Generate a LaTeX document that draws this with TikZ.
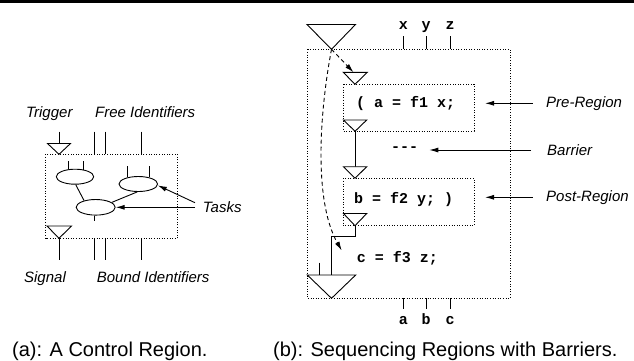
\documentclass[tikz,border=0pt]{standalone}
\usepackage{fontspec}
\setmainfont{Liberation Sans}
\setmonofont{Liberation Mono}
\usetikzlibrary{arrows.meta,shapes.geometric}
\tikzset{
  wire/.style={line width=0.9pt},
  regionbox/.style={line width=0.9pt, dash pattern=on 1pt off 1.6pt},
  tri/.style={line width=0.9pt, fill=white},
  task/.style={ellipse, draw, line width=0.9pt, fill=white, inner sep=0pt},
  lbl/.style={font=\fontsize{15}{18}\selectfont\itshape, inner sep=0pt},
  code/.style={font=\fontsize{15}{18}\selectfont\ttfamily\bfseries, inner sep=0pt},
  caption/.style={font=\fontsize{20}{24}\selectfont, inner sep=0pt, anchor=base west},
  pointer/.style={line width=0.9pt, -{Latex[length=9pt,width=5pt]}},
  dashptr/.style={line width=0.9pt, dash pattern=on 4pt off 3pt, -{Latex[length=9pt,width=5pt]}},
}
\begin{document}
\begin{tikzpicture}[x=1pt,y=-1pt]
\useasboundingbox (0,0) rectangle (634,360);
% rule across the top
\fill (0,0) rectangle (634,2.5);

% ---------------- (a) a control region ----------------
\draw[regionbox] (45.5,154.3) rectangle (177.3,238.3);
% trigger and signal
\draw[wire] (59,131.7) -- (59,143.5);
\draw[tri] (47.5,143.5) -- (70.5,143.5) -- (59,154.3) -- cycle;
\draw[tri] (47,226) -- (71.5,226) -- (59,238.3) -- cycle;
\draw[wire] (59,238.3) -- (59,260);
% free and bound identifiers
\foreach \x in {94.3,105.3,141.7} {
  \draw[wire] (\x,131.7) -- (\x,154.3);
  \draw[wire] (\x,238.3) -- (\x,260);
}
% tasks
\node[task, minimum width=37.4pt, minimum height=15pt] (e1) at (75,176.7) {};
\node[task, minimum width=38.6pt, minimum height=15pt] (e2) at (138.3,184) {};
\node[task, minimum width=39pt,   minimum height=15.6pt] (e3) at (95.7,207.3) {};
\draw[wire] (e1.129) -- ++(0,-7.9);
\draw[wire] (e1.39) -- ++(0,-8.3);
\draw[wire] (e2.147) -- ++(0,-10.9);
\draw[wire] (e2.30) -- ++(0,-11.1);
\draw[wire] (e3.-100) -- ++(0,5.6);
\draw[wire] (e1.-85) -- (e3.150);
\draw[wire] (e3.17) -- (e2.-98);

\node[lbl, anchor=base] (trig) at (49.3,117) {Trigger};
\node[lbl, anchor=base west] (freeid) at (95,117) {Free Identifiers};
\node[lbl, anchor=base] (sig) at (45,282) {Signal};
\node[lbl, anchor=base west] (boundid) at (96.7,282) {Bound Identifiers};
\node[lbl, anchor=west] (tasks) at (202.7,207.3) {Tasks};
\coordinate (ta) at (195,202.7);
\coordinate (tb) at (195,207.3);
\draw[pointer] (ta) -- (e2.-4);
\draw[pointer] (tb) -- (e3.east);

% ---------------- (b) sequencing regions with barriers ----------------
\draw[regionbox] (307.3,49.3) rectangle (510,298.3);
\draw[regionbox] (343.5,84.3) rectangle (474,131);
\draw[regionbox] (343,178.3) rectangle (474,225.7);

% inputs and outputs
\foreach \x/\v in {403.3/x,426/y,450/z} {
  \draw[wire] (\x,36) -- (\x,49.3);
  \node[code, anchor=base] at (\x,29.5) {\v};
}
\foreach \x/\v in {403.3/a,426/b,450/c} {
  \draw[wire] (\x,298.3) -- (\x,309.3);
  \node[code, anchor=base] at (\x,324.5) {\v};
}

% control flow
\coordinate (topA) at (331.5,49.3);
\draw[tri] (307,24.5) -- (355.5,24.5) -- (topA) -- cycle;
\coordinate (t1top) at (353.5,72.3);
\draw[tri] (343.3,72.3) -- (367.3,72.3) -- (355,84.3) -- cycle;
\draw[dashptr] (topA) -- (t1top);

\coordinate (t2A) at (355,131.3);
\draw[tri] (343.5,120) -- (366.7,120) -- (t2A) -- cycle;
\coordinate (t3top) at (355,166.7);
\draw[wire] (t2A) -- (t3top);
\draw[tri] (343.5,166.7) -- (366.7,166.7) -- (355,178.3) -- cycle;

\coordinate (t4A) at (355,225.7);
\draw[tri] (343.5,213.5) -- (366.7,213.5) -- (t4A) -- cycle;
\coordinate (bigtop) at (331.7,275);
\draw[wire] (t4A) -- (355,236.7) -- (331.7,236.7) -- (bigtop);
\draw[wire] (319.3,262.7) -- (319.3,275);
\draw[tri] (307.3,275) -- (355.7,275) -- (331.5,298.3) -- cycle;

\coordinate (cend) at (341.7,250.5);
\draw[dashptr] (topA) .. controls (320,110) and (313,200) .. (cend);

% code
\node[code, anchor=west] (pre) at (356,103.3) {( a = f1 x;};
\node[code, anchor=center] (bar) at (404.5,149.3) {---};
\node[code, anchor=west] (post) at (354,200) {b = f2 y; )};
\node[code, anchor=west] (last) at (356.7,258.3) {c = f3 z;};

% annotations
\node[lbl, anchor=west] (lpre) at (546,103.3) {Pre-Region};
\node[lbl, anchor=west] (lbar) at (547,150) {Barrier};
\node[lbl, anchor=west] (lpost) at (546,197.3) {Post-Region};
\draw[pointer] (532.7,103.3) -- (485,103.3);
\draw[pointer] (531,150) -- (429.3,150);
\draw[pointer] (532.7,197.3) -- (485,197.3);

% captions
\node[caption] (capa) at (12,356.3) {(a): A Control Region.};
\node[caption] (capb) at (273,356.3) {(b): Sequencing Regions with Barriers.};
\end{tikzpicture}
\end{document}
